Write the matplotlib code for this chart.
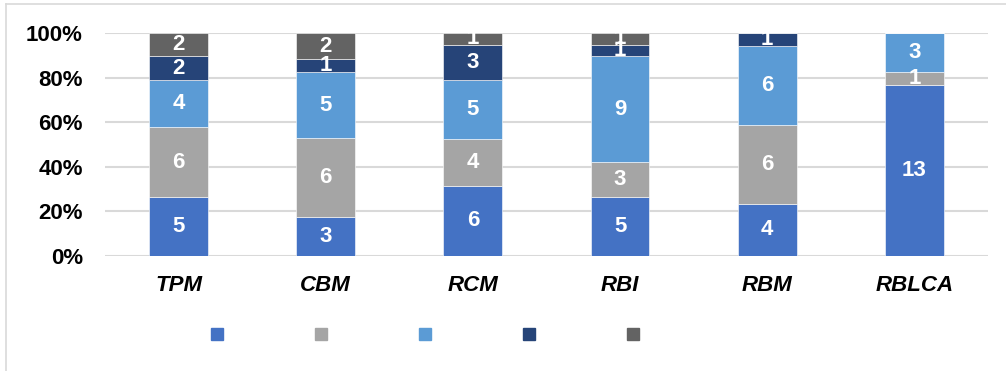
import numpy as np
import matplotlib.pyplot as plt
from matplotlib.lines import Line2D
from matplotlib.ticker import PercentFormatter

plt.rcParams['font.family'] = ['Liberation Sans', 'DejaVu Sans']

methods = ['TPM', 'CBM', 'RCM', 'RBI', 'RBM', 'RBLCA']
s1 = [5, 3, 6, 5, 4, 13]
s2 = [6, 6, 4, 3, 6, 1]
s3 = [4, 5, 5, 9, 6, 3]
s4 = [2, 1, 3, 1, 1, 0]
s5 = [2, 2, 1, 1, 0, 0]
series = [s1, s2, s3, s4, s5]
colors = ['#4472C4', '#A5A5A5', '#5B9BD5', '#264478', '#636363']

counts = np.array(series, dtype=float)
shares = counts / counts.sum(axis=0) * 100

fig = plt.figure(figsize=(10.06, 3.71), dpi=100)
ax = fig.add_axes([0.1044, 0.31, 0.8776, 0.601])

x = np.arange(len(methods))
bottom = np.zeros(len(methods))
for vals, share, col in zip(counts, shares, colors):
    ax.bar(x, share, bottom=bottom, width=0.4, color=col,
           edgecolor='white', linewidth=0.4, zorder=3)
    for xi, v, s, b in zip(x, vals, share, bottom):
        if v > 0:
            ax.text(xi, b + s / 2, f'{int(v)}', ha='center', va='center',
                    color='white', fontsize=16, fontweight='bold', zorder=4)
    bottom += share

ax.set_xlim(-0.5, len(methods) - 0.5)
ax.set_ylim(0, 100)
ax.set_yticks(np.arange(0, 101, 20))
ax.yaxis.set_major_formatter(PercentFormatter(decimals=0))
ax.set_xticks(x)
ax.set_xticklabels(methods, fontsize=16, fontweight='bold', fontstyle='italic')
ax.tick_params(axis='y', length=0, pad=16, labelsize=16)
ax.tick_params(axis='x', length=0, pad=14)
for lbl in ax.get_yticklabels():
    lbl.set_fontweight('bold')
ax.grid(axis='y', color='#D9D9D9', linewidth=1.5, zorder=0)
for sp in ax.spines.values():
    sp.set_visible(False)

handles = [Line2D([], [], marker='s', linestyle='none', markersize=8,
                  markerfacecolor=c, markeredgecolor=c) for c in colors]
fig.legend(handles, [''] * 5, loc='center', bbox_to_anchor=(0.424, 0.097),
           ncol=5, frameon=False, columnspacing=6.3, handletextpad=0.2,
           handlelength=1)

# light frame on the top and left edges
fig.add_artist(Line2D([5.5 / 1006, 5.5 / 1006], [0, 1 - 4 / 371],
                      transform=fig.transFigure, color='#D9D9D9', linewidth=1.2))
fig.add_artist(Line2D([5.5 / 1006, 1], [1 - 4 / 371, 1 - 4 / 371],
                      transform=fig.transFigure, color='#D9D9D9', linewidth=1.2))

fig.savefig('out.png', dpi=100)
